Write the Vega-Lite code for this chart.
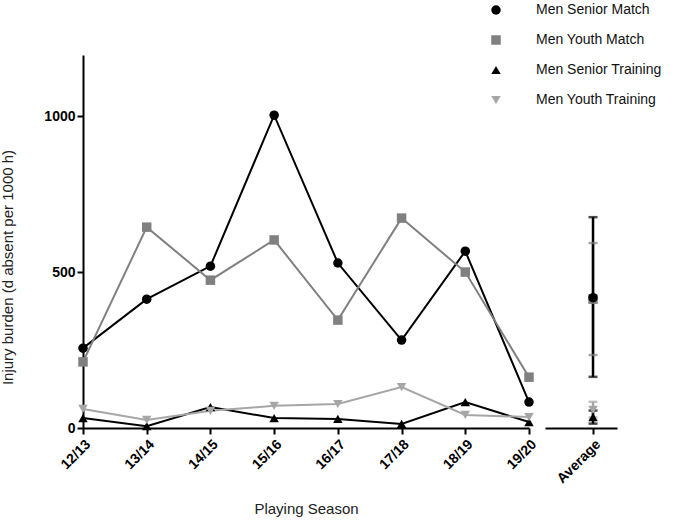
{
  "$schema": "https://vega.github.io/schema/vega-lite/v6.json",
  "padding": {"left": 0, "top": 3, "right": 0, "bottom": 0},
  "background": "white",
  "config": {
    "view": {"stroke": null},
    "font": "Liberation Sans",
    "axis": {
      "domainColor": "#000000", "domainWidth": 2,
      "tickColor": "#000000", "tickWidth": 2, "tickSize": 6,
      "labelColor": "#000000", "labelFont": "Liberation Sans", "labelFontSize": 14, "labelFontWeight": "bold",
      "titleColor": "#222222", "titleFont": "Liberation Sans", "titleFontSize": 15, "titleFontWeight": "normal",
      "grid": false
    },
    "legend": {
      "labelFont": "Liberation Sans", "labelFontSize": 14, "labelColor": "#111111"
    }
  },
  "datasets": {
    "seasons": [
      {"season": "12/13", "series": "Men Senior Match", "value": 256},
      {"season": "13/14", "series": "Men Senior Match", "value": 413},
      {"season": "14/15", "series": "Men Senior Match", "value": 519},
      {"season": "15/16", "series": "Men Senior Match", "value": 1003},
      {"season": "16/17", "series": "Men Senior Match", "value": 529},
      {"season": "17/18", "series": "Men Senior Match", "value": 282},
      {"season": "18/19", "series": "Men Senior Match", "value": 567},
      {"season": "19/20", "series": "Men Senior Match", "value": 83},
      {"season": "12/13", "series": "Men Youth Match", "value": 212},
      {"season": "13/14", "series": "Men Youth Match", "value": 644},
      {"season": "14/15", "series": "Men Youth Match", "value": 474},
      {"season": "15/16", "series": "Men Youth Match", "value": 603},
      {"season": "16/17", "series": "Men Youth Match", "value": 346},
      {"season": "17/18", "series": "Men Youth Match", "value": 673},
      {"season": "18/19", "series": "Men Youth Match", "value": 500},
      {"season": "19/20", "series": "Men Youth Match", "value": 163},
      {"season": "12/13", "series": "Men Senior Training", "value": 32},
      {"season": "13/14", "series": "Men Senior Training", "value": 6},
      {"season": "14/15", "series": "Men Senior Training", "value": 67},
      {"season": "15/16", "series": "Men Senior Training", "value": 32},
      {"season": "16/17", "series": "Men Senior Training", "value": 29},
      {"season": "17/18", "series": "Men Senior Training", "value": 13},
      {"season": "18/19", "series": "Men Senior Training", "value": 83},
      {"season": "19/20", "series": "Men Senior Training", "value": 19},
      {"season": "12/13", "series": "Men Youth Training", "value": 61},
      {"season": "13/14", "series": "Men Youth Training", "value": 26},
      {"season": "14/15", "series": "Men Youth Training", "value": 55},
      {"season": "15/16", "series": "Men Youth Training", "value": 71},
      {"season": "16/17", "series": "Men Youth Training", "value": 77},
      {"season": "17/18", "series": "Men Youth Training", "value": 131},
      {"season": "18/19", "series": "Men Youth Training", "value": 42},
      {"season": "19/20", "series": "Men Youth Training", "value": 35}
    ],
    "avg": [
      {"label": "Average", "series": "Men Youth Match", "mean": 413, "lo": 234, "hi": 593},
      {"label": "Average", "series": "Men Youth Training", "mean": 58, "lo": 34, "hi": 84},
      {"label": "Average", "series": "Men Senior Match", "mean": 418, "lo": 164, "hi": 676},
      {"label": "Average", "series": "Men Senior Training", "mean": 35, "lo": 14, "hi": 56}
    ]
  },
  "spacing": 6,
  "hconcat": [
    {
      "width": 446,
      "height": 373,
      "data": {"name": "seasons"},
      "encoding": {
        "x": {
          "field": "season", "type": "ordinal",
          "scale": {"type": "point", "padding": 0},
          "axis": {"labelAngle": -45, "title": "Playing Season", "titlePadding": 30, "labelPadding": 3}
        },
        "y": {
          "field": "value", "type": "quantitative",
          "scale": {"domain": [0, 1196], "nice": false},
          "axis": {"values": [0, 500, 1000], "format": "d", "title": "Injury burden (d absent per 1000 h)", "titlePadding": 28, "labelPadding": 2, "titleY": 212}
        },
        "color": {
          "field": "series", "type": "nominal",
          "scale": {
            "domain": ["Men Senior Match", "Men Youth Match", "Men Senior Training", "Men Youth Training"],
            "range": ["#000000", "#808080", "#000000", "#a6a6a6"]
          },
          "legend": {
            "title": null, "orient": "none", "legendX": 406, "legendY": -52,
            "rowPadding": 16, "labelOffset": 33, "symbolSize": 90, "symbolStrokeWidth": 0
          }
        }
      },
      "layer": [
        {
          "mark": {"type": "line", "strokeWidth": 2},
          "encoding": {"detail": {"field": "series"}}
        },
        {
          "mark": {"type": "point", "filled": true, "size": 90, "opacity": 1},
          "encoding": {
            "shape": {
              "field": "series", "type": "nominal",
              "scale": {
                "domain": ["Men Senior Match", "Men Youth Match", "Men Senior Training", "Men Youth Training"],
                "range": ["circle", "square", "triangle-up", "triangle-down"]
              }
            }
          }
        }
      ]
    },
    {
      "width": 72,
      "height": 373,
      "data": {"name": "avg"},
      "encoding": {
        "x": {
          "field": "label", "type": "ordinal",
          "scale": {"type": "point", "padding": 0.5, "align": 0.667},
          "axis": {"labelAngle": -45, "title": null, "labelPadding": 3}
        },
        "color": {"field": "series", "type": "nominal"}
      },
      "layer": [
        {
          "mark": {"type": "rule", "strokeWidth": 2.5},
          "encoding": {
            "y": {"field": "lo", "type": "quantitative", "scale": {"domain": [0, 1196], "nice": false}, "axis": null},
            "y2": {"field": "hi"}
          }
        },
        {
          "mark": {"type": "tick", "thickness": 2.5, "size": 9},
          "encoding": {"y": {"field": "lo", "type": "quantitative"}}
        },
        {
          "mark": {"type": "tick", "thickness": 2.5, "size": 9},
          "encoding": {"y": {"field": "hi", "type": "quantitative"}}
        },
        {
          "mark": {"type": "point", "filled": true, "size": 90, "opacity": 1},
          "encoding": {
            "y": {"field": "mean", "type": "quantitative"},
            "shape": {"field": "series", "type": "nominal"}
          }
        }
      ]
    }
  ]
}
